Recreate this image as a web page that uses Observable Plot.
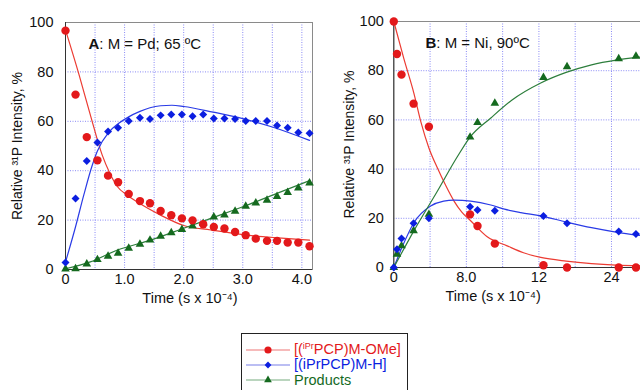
<!DOCTYPE html>
<html><head><meta charset="utf-8">
<script src="https://cdn.jsdelivr.net/npm/d3@7"></script>
<script src="https://cdn.jsdelivr.net/npm/@observablehq/plot@0.6"></script>
<style>
body{margin:0;background:#fff;font-family:"Liberation Sans",Arial,Helvetica,sans-serif;}
#wrap{position:relative;width:640px;height:390px;overflow:hidden;background:#fff}
#pa{position:absolute;left:0;top:0}
#pb{position:absolute;left:320px;top:0}
#legend{position:absolute;left:241px;top:333px;width:165px;height:70px;border:1px solid #222;background:#fff}
.row{position:absolute;left:0;height:15px;display:flex;align-items:center;font-size:14.5px;line-height:15px;white-space:nowrap}
.row svg{margin-left:4px;margin-right:4px}
sup{font-size:9px;vertical-align:5px;line-height:0}
</style></head>
<body><div id="wrap"><div id="pa"></div><div id="pb"></div><div id="legend"></div></div>
<script>
// ---------- Panel A (M = Pd, 65 ºC) ----------
const timeA = [0, 0.17, 0.36, 0.54, 0.72, 0.89, 1.07, 1.26, 1.43, 1.61, 1.79, 1.97, 2.15, 2.33, 2.51, 2.69, 2.87, 3.05, 3.22, 3.41, 3.58, 3.76, 3.94, 4.13];
const omeA  = [96.7, 70.8, 53.6, 44.2, 38.0, 35.3, 30.6, 27.7, 26.8, 23.7, 22.0, 20.7, 19.9, 18.3, 17.2, 16.6, 15.2, 13.9, 12.5, 11.6, 11.6, 10.9, 10.9, 9.4];
const hydA  = [2.8, 28.7, 43.9, 51.4, 55.9, 57.4, 60.1, 61.4, 60.9, 62.4, 62.8, 62.8, 62.0, 62.8, 61.1, 61.1, 60.9, 60.1, 60.1, 60.1, 58.3, 57.4, 55.5, 55.2];
const prodA = [0.2, 0.3, 2.2, 4.0, 5.4, 6.6, 8.6, 10.2, 11.9, 13.5, 14.9, 16.2, 17.6, 18.6, 21.3, 22.1, 23.6, 25.6, 26.9, 28.0, 29.6, 31.2, 33.0, 35.0];
// fitted curves
const omeFitAt = [0, 0.23, 0.42, 0.62, 0.75, 0.88, 1.05, 1.21, 1.61, 2.0, 2.46, 3.08, 3.6, 4.13];
const omeFitAy = [97, 78.8, 62.6, 46.4, 39, 33.5, 30, 27.4, 22, 17.8, 16, 13.9, 12.8, 11.9];
const hydFitAt = [0, 0.17, 0.31, 0.45, 0.54, 0.73, 0.89, 1.07, 1.26, 1.43, 1.61, 1.8, 2.0, 2.5, 3.0, 3.5, 4.13];
const hydFitAy = [3, 17.3, 30.2, 42, 48, 55.5, 59, 61.8, 64, 65.5, 66.3, 66.5, 66.0, 63.7, 61.1, 57.7, 52.3];
const prodFitAt = [0, 0.42, 0.88, 1.44, 2.0, 2.46, 3.08, 3.6, 4.13];
const prodFitAy = [0.3, 3.1, 7.9, 11.9, 16.7, 20.7, 26.1, 31, 36];
const xTicksA = [0, 1, 2, 3, 4];
const xLabelsA = ["0", "1.0", "2.0", "3.0", "4.0"];
const xGridA = [0.5, 1, 1.5, 2, 2.5, 3, 3.5, 4];

// ---------- Panel B (M = Ni, 90ºC) ----------
const timeB = [0, 0.35, 0.85, 2.18, 3.87, 8.41, 9.23, 11.14, 16.5, 19.1, 24.8, 26.7];
const omeB  = [100, 86.8, 78.4, 66.6, 57.2, 21.6, 16.9, 9.7, 0.9, 0, 0, 0];
const hydB  = [0, 7.4, 11.8, 18.0, 20.0, 24.7, 23.4, 23.1, 20.9, 18.0, 14.6, 13.6];
const prodB = [0, 5.4, 8.8, 14.9, 21.6, 53.0, 58.9, 66.8, 77.2, 81.6, 84.9, 85.9];
const omeFitBt = [0, 1.1, 2.21, 3.0, 3.87, 4.8, 5.7, 6.64, 7.5, 8.5, 10.3, 12.5, 14.3, 16.2, 19, 21.8, 24.5, 27.2];
const omeFitBy = [100, 85, 70.9, 59, 48.6, 40.5, 33.5, 27, 22.5, 18.9, 12.5, 8.8, 6, 4.1, 2.6, 1.6, 1.0, 0.7];
const hydFitBt = [0, 1, 2.21, 4.06, 5.5, 6.64, 8.48, 10.7, 12.2, 14, 16.2, 19, 21.8, 24.5, 27.2];
const hydFitBy = [0, 9, 18.2, 25, 27, 27.4, 27.0, 25.4, 23.7, 22.3, 21, 18.5, 16.2, 14.4, 13.0];
const prodFitBt = [0, 2.21, 4.8, 7.0, 8.41, 10.7, 13, 16.2, 19, 21.8, 24.5, 27.2];
const prodFitBy = [0, 14.9, 31, 45, 53, 60.8, 68, 75, 79.3, 82.4, 84.3, 85.5];
const xTicksB = [0, 8, 16, 24];
const xLabelsB = ["0", "8.0", "12", "24"];
const xGridB = [4, 8, 12, 16, 20, 24];

const yTicks = [0, 20, 40, 60, 80, 100];
const yGrid = [20, 40, 60, 80];
const yLabel = "Relative \u00B3\u00B9P Intensity, %";
const xLabel = "Time (s x 10\u207B\u2074)";
const seriesNames = ["[(iPrPCP)M-OMe]", "[(iPrPCP)M-H]", "Products"];

const C = {
  red: "#e3191b", redLine: "#ec3b32", redLeg: "#f3a3a3",
  blue: "#0b1ee0", blueLine: "#2a3be6", blueLeg: "#a5a8ef",
  green: "#156a1f", greenLine: "#2d7e3c", greenLeg: "#a3c7a8",
  grid: "#8a8af5"
};
const FONT = '"Liberation Sans", Arial, Helvetica, sans-serif';

function pts(xs, ys) { return xs.map((x, i) => ({x, y: ys[i]})); }

function panel(cfg) {
  const fmt = new Map(cfg.xTicks.map((t, i) => [t, cfg.xLabels[i]]));
  return Plot.plot({
    width: 320, height: 310,
    marginLeft: cfg.ml, marginRight: cfg.mr, marginTop: cfg.mt, marginBottom: 310 - cfg.yb,
    x: {domain: cfg.xDomain},
    y: {domain: [0, 100]},
    style: {fontFamily: FONT, fontSize: "14.5px", color: "#111", background: "transparent", overflow: "visible"},
    marks: [
      Plot.ruleX(cfg.xGrid, {stroke: C.grid, strokeDasharray: "1,1.5", strokeWidth: 1}),
      Plot.ruleY(yGrid, {stroke: C.grid, strokeDasharray: "1,1.5", strokeWidth: 1}),
      Plot.frame({stroke: "#8a8a8a"}),
      Plot.ruleX([0], {stroke: "#333"}),
      Plot.ruleY([0], {stroke: "#333"}),
      Plot.axisX({ticks: cfg.xTicks, tickFormat: d => fmt.get(d), tickSize: 0, tickPadding: 4, label: null, fontSize: 14.5}),
      Plot.axisY({ticks: yTicks, tickSize: 0, tickPadding: cfg.yPad, label: null, fontSize: 14.5}),
      Plot.text([yLabel], {frameAnchor: "left", textAnchor: "middle", lineAnchor: "middle", rotate: -90, dx: cfg.yLabDx, fontSize: 14, fill: "#111"}),
      Plot.text([xLabel], {frameAnchor: "bottom", textAnchor: "middle", lineAnchor: "middle", dy: 29, dx: cfg.xLabDx, fontSize: 14.5, fill: "#111"}),
      Plot.text([cfg.tag], {frameAnchor: "top-left", textAnchor: "start", lineAnchor: "middle", dx: cfg.tagDx, dy: 22, fontSize: 15, fontWeight: "bold", fill: "#111"}),
      Plot.text([cfg.title], {frameAnchor: "top-left", textAnchor: "start", lineAnchor: "middle", dx: cfg.tagDx + 10.8, dy: 22, fontSize: 15, fill: "#111"}),
      Plot.line(pts(cfg.fit[0][0], cfg.fit[0][1]), {x: "x", y: "y", stroke: C.redLine, strokeWidth: 1.2, curve: "monotone-x"}),
      Plot.line(pts(cfg.fit[1][0], cfg.fit[1][1]), {x: "x", y: "y", stroke: C.blueLine, strokeWidth: 1.2, curve: "monotone-x"}),
      Plot.line(pts(cfg.fit[2][0], cfg.fit[2][1]), {x: "x", y: "y", stroke: C.greenLine, strokeWidth: 1.2, curve: "monotone-x"}),
      Plot.dot(pts(cfg.t, cfg.prod), {x: "x", y: "y", symbol: "triangle", r: 3.2, fill: C.green, stroke: "none"}),
      Plot.dot(pts(cfg.t, cfg.hyd), {x: "x", y: "y", symbol: "diamond2", r: 3.6, fill: C.blue, stroke: "none"}),
      Plot.dot(pts(cfg.t, cfg.ome), {x: "x", y: "y", symbol: "circle", r: 4.2, fill: C.red, stroke: "none"})
    ]
  });
}

document.getElementById("pa").append(panel({
  ml: 65, mr: 8, mt: 22, yb: 269, xDomain: [0, 4.18], yPad: 12, yLabDx: -48, xLabDx: 1,
  xTicks: xTicksA, xLabels: xLabelsA, xGrid: xGridA,
  tag: "A", title: ": M = Pd; 65 \u00BAC", tagDx: 23,
  t: timeA, ome: omeA, hyd: hydA, prod: prodA,
  fit: [[omeFitAt, omeFitAy], [hydFitAt, hydFitAy], [prodFitAt, prodFitAy]]
}));
document.getElementById("pb").append(panel({
  ml: 73.3, mr: 0, mt: 21, yb: 267, xDomain: [0, 27.2], yPad: 10, yLabDx: -44, xLabDx: -24,
  xTicks: xTicksB, xLabels: xLabelsB, xGrid: xGridB,
  tag: "B", title: ": M = Ni, 90\u00BAC", tagDx: 31.7,
  t: timeB, ome: omeB, hyd: hydB, prod: prodB,
  fit: [[omeFitBt, omeFitBy], [hydFitBt, hydFitBy], [prodFitBt, prodFitBy]]
}));

// ---------- Legend ----------
const leg = document.getElementById("legend");
const legItems = [
  {html: '[(<sup>iPr</sup>PCP)M-OMe]', color: C.red, line: C.redLeg, sym: d3.symbolCircle, size: 40},
  {html: seriesNames[1], color: C.blue, line: C.blueLeg, sym: d3.symbolDiamond2, size: 30},
  {html: seriesNames[2], color: C.green, line: C.greenLeg, sym: d3.symbolTriangle, size: 26}
];
const rowTops = [8, 23, 38.5];
legItems.forEach((it, i) => {
  const row = document.createElement("div");
  row.className = "row";
  row.style.top = rowTops[i] + "px";
  row.style.color = it.color;
  const svg = d3.create("svg").attr("width", 44).attr("height", 14);
  svg.append("line").attr("x1", 0).attr("x2", 44).attr("y1", 7).attr("y2", 7).attr("stroke", it.line).attr("stroke-width", 1.4);
  svg.append("path").attr("transform", "translate(22,7)").attr("d", d3.symbol(it.sym, it.size)()).attr("fill", it.color);
  row.append(svg.node());
  const span = document.createElement("span");
  span.innerHTML = it.html;
  row.append(span);
  leg.append(row);
});
</script></body></html>
